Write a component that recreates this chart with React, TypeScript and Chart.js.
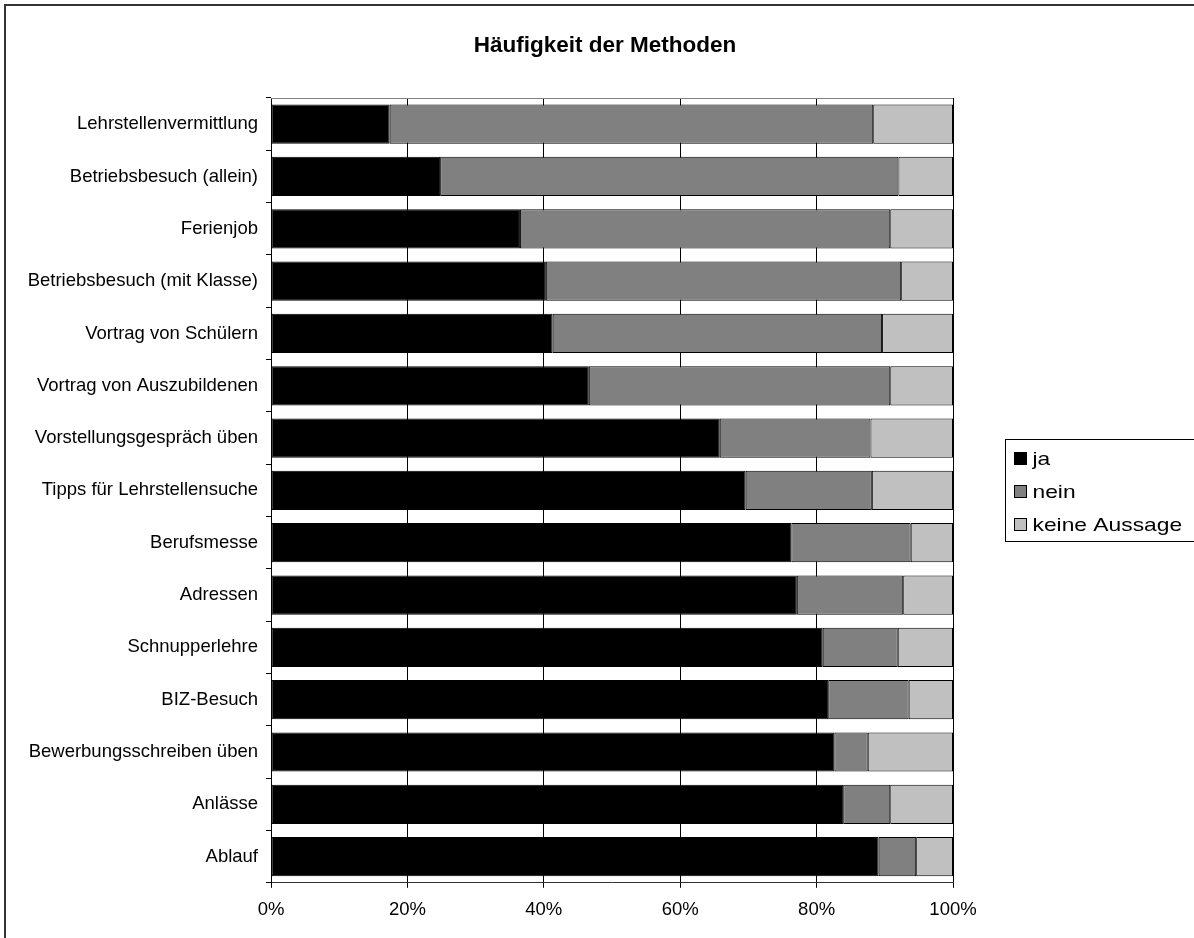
import React, { useEffect, useRef } from "react";
import { Chart, registerables } from "chart.js";

Chart.register(...registerables);

const CATEGORIES = [
  "Lehrstellenvermittlung",
  "Betriebsbesuch (allein)",
  "Ferienjob",
  "Betriebsbesuch (mit Klasse)",
  "Vortrag von Schülern",
  "Vortrag von Auszubildenen",
  "Vorstellungsgespräch üben",
  "Tipps für Lehrstellensuche",
  "Berufsmesse",
  "Adressen",
  "Schnupperlehre",
  "BIZ-Besuch",
  "Bewerbungsschreiben üben",
  "Anlässe",
  "Ablauf",
];

const JA = [17.4, 24.8, 36.5, 40.3, 41.3, 46.6, 65.8, 69.6, 76.3, 77.1, 80.9, 81.7, 82.6, 83.9, 89.1];
const NEIN = [70.9, 67.2, 54.3, 52.1, 48.3, 44.2, 22.1, 18.5, 17.5, 15.6, 11.0, 11.8, 4.9, 6.9, 5.5];
const KEINE = [11.7, 8.0, 9.2, 7.6, 10.4, 9.2, 12.1, 11.9, 6.2, 7.3, 8.1, 6.5, 12.5, 9.2, 5.4];

const SERIES_LABELS = ["ja", "nein", "keine Aussage"];
const SERIES_COLORS = ["#000000", "#808080", "#C0C0C0"];
const X_TICKS = [0, 20, 40, 60, 80, 100];
const TITLE = "Häufigkeit der Methoden";

const FONT = "'Liberation Sans', Arial, sans-serif";

const plotFramePlugin = {
  id: "plotFrame",
  afterDatasetsDraw(chart: any) {
    const { ctx, chartArea } = chart;
    ctx.save();
    ctx.strokeStyle = "#808080";
    ctx.lineWidth = 1;
    ctx.beginPath();
    ctx.moveTo(chartArea.left, Math.round(chartArea.top) + 0.5);
    ctx.lineTo(chartArea.right, Math.round(chartArea.top) + 0.5);
    ctx.stroke();
    ctx.restore();
  },
};

const boxLegendPlugin = {
  id: "boxLegend",
  afterDraw(chart: any) {
    const { ctx, chartArea } = chart;
    const datasets = chart.data.datasets;
    const left = Math.round(chartArea.right + 52) + 0.5;
    const cy = (chartArea.top + chartArea.bottom) / 2;
    const h = 102;
    const top = Math.round(cy - h / 2) + 0.5;
    ctx.save();
    ctx.fillStyle = "#ffffff";
    ctx.fillRect(left, top, 400, h);
    ctx.strokeStyle = "#000000";
    ctx.lineWidth = 1;
    ctx.strokeRect(left, top, 400, h);
    const spacing = 33;
    datasets.forEach((ds: any, i: number) => {
      const iy = cy + (i - 1) * spacing + 1;
      const bx = Math.round(left + 8) + 0.5;
      const by = Math.round(iy - 6) + 0.5;
      ctx.fillStyle = ds.backgroundColor;
      ctx.fillRect(bx, by, 12, 12);
      ctx.strokeStyle = "#000000";
      ctx.strokeRect(bx, by, 12, 12);
      ctx.save();
      ctx.translate(left + 27, iy);
      ctx.scale(1.2, 1);
      ctx.fillStyle = "#000000";
      ctx.font = `19px ${FONT}`;
      ctx.textBaseline = "middle";
      ctx.textAlign = "left";
      ctx.fillText(ds.label, 0, 1);
      ctx.restore();
    });
    ctx.restore();
  },
};

export default function App() {
  const canvasRef = useRef<HTMLCanvasElement | null>(null);

  useEffect(() => {
    if (!canvasRef.current) return;
    const values = [JA, NEIN, KEINE];
    const chart = new Chart(canvasRef.current, {
      type: "bar",
      data: {
        labels: CATEGORIES,
        datasets: values.map((v, i) => ({
          label: SERIES_LABELS[i],
          data: v,
          backgroundColor: SERIES_COLORS[i],
          borderColor: "#000000",
          borderWidth: 1,
          borderSkipped: false,
          categoryPercentage: 1,
          barPercentage: 0.75,
        })),
      },
      options: {
        indexAxis: "y",
        responsive: false,
        animation: false,
        devicePixelRatio: 1,
        layout: { padding: { left: 16, right: 16, top: 0, bottom: 6 } },
        plugins: {
          legend: { display: false },
          tooltip: { enabled: false },
          title: {
            display: true,
            text: TITLE,
            color: "#000000",
            font: { family: FONT, size: 22.5, weight: "bold" },
            padding: { top: 26, bottom: 39 },
          },
        },
        scales: {
          x: {
            stacked: true,
            min: 0,
            max: 100,
            afterBuildTicks: (scale: any) => {
              scale.ticks = X_TICKS.map((v) => ({ value: v }));
            },
            ticks: {
              color: "#000000",
              font: { family: FONT, size: 18.5 },
              padding: 11,
              maxRotation: 0,
              callback: (v: any) => `${v}%`,
            },
            grid: {
              color: "#000000",
              lineWidth: 1,
              drawTicks: true,
              tickLength: 5,
            },
            border: { display: true, color: "#333333", width: 1 },
          },
          y: {
            stacked: true,
            afterFit: (scale: any) => {
              scale.width = 249;
            },
            ticks: {
              color: "#000000",
              font: { family: FONT, size: 18.5 },
              padding: 8,
            },
            grid: {
              offset: true,
              drawOnChartArea: false,
              drawTicks: true,
              tickLength: 5,
              color: "#000000",
            },
            border: { display: true, color: "#000000", width: 1 },
          },
          legendSpace: {
            type: "linear",
            position: "right",
            display: true,
            afterFit: (scale: any) => {
              scale.width = 235;
            },
            ticks: { display: false },
            grid: { display: false, drawTicks: false },
            border: { display: false },
          },
        },
      },
      plugins: [plotFramePlugin, boxLegendPlugin],
    } as any);
    return () => chart.destroy();
  }, []);

  return (
    <div
      style={{
        position: "fixed",
        left: 0,
        top: 0,
        width: 1194,
        height: 938,
        overflow: "hidden",
        background: "#ffffff",
      }}
    >
      <div
        style={{
          position: "absolute",
          left: 4,
          top: 4,
          width: 1198,
          height: 960,
          borderLeft: "2px solid #333333",
          borderTop: "2px solid #333333",
          borderRight: "2px solid #333333",
          background: "#ffffff",
        }}
      >
        <canvas ref={canvasRef} width={1198} height={932} style={{ display: "block" }} />
      </div>
    </div>
  );
}
